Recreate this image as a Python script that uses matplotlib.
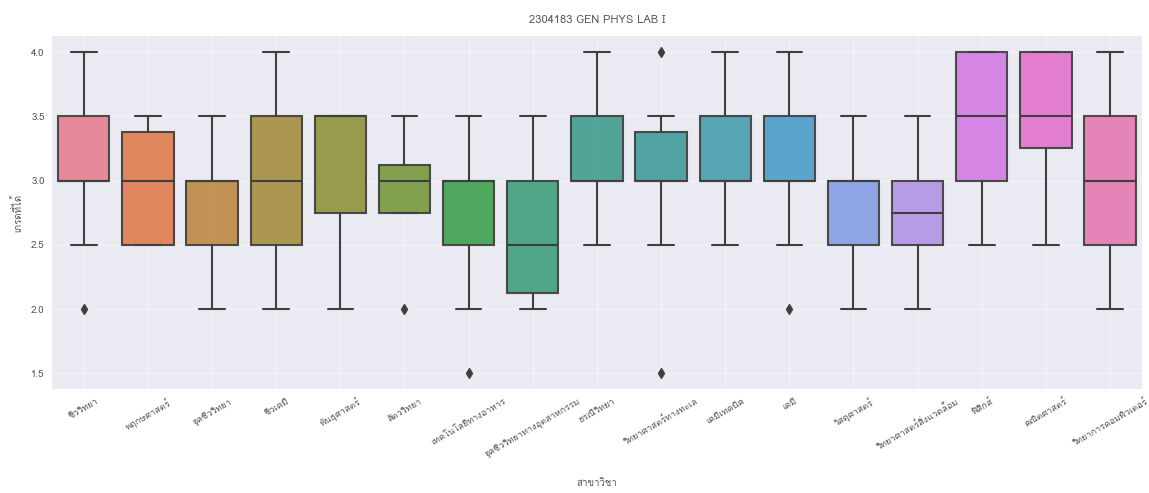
import matplotlib
matplotlib.use("Agg")
import matplotlib.pyplot as plt
import seaborn as sns
from matplotlib import font_manager, ft2font

# Majors (x categories)
majors = [
    "ชีววิทยา", "พฤกษศาสตร์", "จุลชีววิทยา", "ชีวเคมี", "พันธุศาสตร์",
    "สัตววิทยา", "เทคโนโลยีทางอาหาร", "จุลชีววิทยาทางอุตสาหกรรม", "ธรณีวิทยา",
    "วิทยาศาสตร์ทางทะเล", "เคมีเทคนิค", "เคมี", "วัสดุศาสตร์",
    "วิทยาศาสตร์สิ่งแวดล้อม", "ฟิสิกส์", "คณิตศาสตร์", "วิทยาการคอมพิวเตอร์",
]

# Box statistics per major (grades)
q1 = [3.0, 2.5, 2.5, 2.5, 2.75, 2.75, 2.5, 2.125, 3.0, 3.0, 3.0, 3.0, 2.5, 2.5, 3.0, 3.25, 2.5]
median = [3.0, 3.0, 3.0, 3.0, 3.5, 3.0, 3.0, 2.5, 3.0, 3.0, 3.0, 3.0, 3.0, 2.75, 3.5, 3.5, 3.0]
q3 = [3.5, 3.375, 3.0, 3.5, 3.5, 3.125, 3.0, 3.0, 3.5, 3.375, 3.5, 3.5, 3.0, 3.0, 4.0, 4.0, 3.5]
whisker_low = [2.5, 2.5, 2.0, 2.0, 2.0, 2.75, 2.0, 2.0, 2.5, 2.5, 2.5, 2.5, 2.0, 2.0, 2.5, 2.5, 2.0]
whisker_high = [4.0, 3.5, 3.5, 4.0, 3.5, 3.5, 3.5, 3.5, 4.0, 3.5, 4.0, 4.0, 3.5, 3.5, 4.0, 4.0, 4.0]
outliers = [[2.0], [], [], [], [], [2.0], [1.5], [], [], [4.0, 1.5], [], [2.0], [], [], [], [], []]

yticks = [1.5, 2.0, 2.5, 3.0, 3.5, 4.0]
title = "2304183 GEN PHYS LAB I"
xlabel = "สาขาวิชา"
ylabel = "เกรดที่ได้"


def thai_font():
    for f in font_manager.fontManager.ttflist:
        try:
            ft = ft2font.FT2Font(f.fname)
            if ft.get_char_index(0x0E01):
                return f.name
        except Exception:
            continue
    return None


sns.set_theme(style="darkgrid")
fam = thai_font()
plt.rcParams["font.family"] = ([fam] if fam else []) + ["DejaVu Sans"]

stats = []
for i in range(len(majors)):
    stats.append(dict(q1=q1[i], med=median[i], q3=q3[i],
                      whislo=whisker_low[i], whishi=whisker_high[i],
                      fliers=outliers[i], label=majors[i]))

palette = [sns.desaturate(c, 0.75) for c in sns.husl_palette(len(majors))]
line_col = "#3f3f3f"

fig = plt.figure(figsize=(11.49, 4.93), dpi=100)
ax = fig.add_axes([0.045, 0.21, 0.949, 0.717])
ax.set_facecolor("#EAEAF2")

bp = ax.bxp(stats, positions=range(len(majors)), widths=0.8,
            patch_artist=True, showfliers=True,
            boxprops=dict(edgecolor=line_col, linewidth=1.5),
            medianprops=dict(color=line_col, linewidth=1.5),
            whiskerprops=dict(color=line_col, linewidth=1.5),
            capprops=dict(color=line_col, linewidth=1.5),
            flierprops=dict(marker="d", markerfacecolor=line_col,
                            markeredgecolor=line_col, markersize=5))
for patch, col in zip(bp["boxes"], palette):
    patch.set_facecolor(col)
    patch.set_alpha(0.92)

ax.set_xlim(-0.5, len(majors) - 0.5)
ax.set_ylim(1.375, 4.125)
ax.set_yticks(yticks)
ax.set_yticklabels([f"{v:.1f}" for v in yticks], fontsize=7, color="#555555")
ax.set_xticks(range(len(majors)))
ax.set_xticklabels(majors, rotation=30, ha="center", fontsize=6.6, color="#555555")
ax.tick_params(axis="both", length=0, pad=5)
ax.grid(True, color="#f4f4f8", linewidth=0.9)
ax.set_axisbelow(True)
for s in ax.spines.values():
    s.set_visible(False)

ax.set_title(title, fontsize=8, color="#555555", pad=9)
ax.set_xlabel(xlabel, fontsize=7, color="#555555", labelpad=14)
ax.set_ylabel(ylabel, fontsize=7, color="#555555", labelpad=6)

fig.savefig("out.png", dpi=100, facecolor="white")
